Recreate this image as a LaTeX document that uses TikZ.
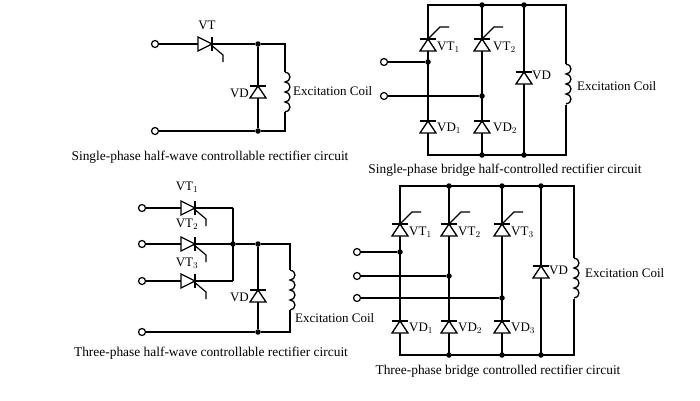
\documentclass[tikz,border=0pt]{standalone}
\usepackage{fontspec}
\setmainfont{Liberation Serif}
\tikzset{
  wire/.style={line width=1.1pt},
  lbl/.style={font=\fontsize{13}{14}\selectfont, inner sep=1pt},
  captxt/.style={font=\fontsize{13.4}{14}\selectfont},
  term/.style={circle, draw, fill=white, line width=1.2pt, inner sep=0pt, minimum size=7pt},
  jdot/.style={circle, fill, inner sep=0pt, minimum size=5.5pt},
  diode/.pic={\draw[line width=1.3pt, fill=white] (-8,6) -- (8,6) -- (0,-6) -- cycle;
    \draw[line width=1.4pt] (-8,-6) -- (8,-6);},
  thyup/.pic={\draw[line width=1.3pt, fill=white] (-8,6) -- (8,6) -- (0,-6) -- cycle;
    \draw[line width=1.4pt] (-8,-6) -- (8,-6);
    \draw[line width=1.2pt] (0,-6) -- (12,-18) -- (21,-18);},
  thyright/.pic={\draw[line width=1.3pt, fill=white] (-7,-7) -- (-7,7) -- (7,0) -- cycle;
    \draw[line width=1.4pt] (7,-7) -- (7,7);
    \draw[line width=1.2pt] (5,0) -- (18,11) -- (18,18);},
}
\newcommand{\coil}[2]{\draw[line width=1.3pt] (#1,#2) arc[start angle=-90,end angle=90,radius=5]
  arc[start angle=-90,end angle=90,radius=5] arc[start angle=-90,end angle=90,radius=5]
  arc[start angle=-90,end angle=90,radius=5];}
\begin{document}
\begin{tikzpicture}[x=1pt,y=-1pt]
\useasboundingbox (0,0) rectangle (700,400);
% single-phase half-wave
\node[term] (a1) at (155,44) {};
\node[term] (a2) at (155,131) {};
\node[jdot] (a3) at (258,44) {};
\node[jdot] (a4) at (258,131) {};
\draw[wire] (a1) -- (a3) -- (285,44) -- (285,72);
\draw[wire] (285,112) -- (285,131) -- (a4) -- (a2);
\draw[wire] (a3) -- (a4);
\coil{285}{72}
\pic at (205,44) {thyright};
\pic at (258,92) {diode};
\node[lbl] at (207,25) {VT};
\node[lbl, left] at (250,93) {VD};
\node[lbl, right] at (292,91) {Excitation Coil};
\node[captxt] at (210,157) {Single-phase half-wave controllable rectifier circuit};
% single-phase bridge
\draw[wire] (428,5) rectangle (566,155);
\draw[wire] (482,5) -- (482,155) (524,5) -- (524,155);
\draw[draw=white, fill=white] (562,64) rectangle (572,104);
\coil{566}{64}
\foreach \x in {482,524} {\node[jdot] at (\x,5) {}; \node[jdot] at (\x,155) {};}
\node[term] (b1) at (384,62) {};
\node[term] (b2) at (384,96) {};
\node[jdot] (b3) at (428,62) {};
\node[jdot] (b4) at (482,96) {};
\draw[wire] (b1) -- (b3) (b2) -- (b4);
\pic at (428,45) {thyup};
\pic at (482,45) {thyup};
\pic at (428,127) {diode};
\pic at (482,127) {diode};
\pic at (524,78) {diode};
\node[lbl, right] at (436,47) {VT$_1$};
\node[lbl, right] at (492,47) {VT$_2$};
\node[lbl, right] at (436,128) {VD$_1$};
\node[lbl, right] at (492,128) {VD$_2$};
\node[lbl, right] at (531,75) {VD};
\node[lbl, right] at (576,86) {Excitation Coil};
\node[captxt] at (505,170) {Single-phase bridge half-controlled rectifier circuit};
% three-phase half-wave
\foreach \y/\i in {208/1,244/2,281/3} {
  \node[term] (c\i) at (142,\y) {};
  \draw[wire] (c\i) -- (233,\y);
  \pic at (188,\y) {thyright};
}
\node[lbl] at (187,187) {VT$_1$};
\node[lbl] at (187,224) {VT$_2$};
\node[lbl] at (187,263) {VT$_3$};
\node[term] (c4) at (142,332) {};
\node[jdot] (c5) at (233,244) {};
\node[jdot] (c6) at (258,244) {};
\node[jdot] (c7) at (258,332) {};
\draw[wire] (233,208) -- (233,281);
\draw[wire] (c5) -- (c6) -- (290,244) -- (290,270);
\draw[wire] (290,310) -- (290,332) -- (c7) -- (c4);
\draw[wire] (c6) -- (c7);
\coil{290}{270}
\pic at (258,296) {diode};
\node[lbl, left] at (250,297) {VD};
\node[lbl, right] at (294,318) {Excitation Coil};
\node[captxt] at (211,353) {Three-phase half-wave controllable rectifier circuit};
% three-phase bridge
\draw[wire] (400,186) rectangle (574,355);
\foreach \x in {449,502,541} {\draw[wire] (\x,186) -- (\x,355);
  \node[jdot] at (\x,186) {}; \node[jdot] at (\x,355) {};}
\draw[draw=white, fill=white] (570,258) rectangle (580,298);
\coil{574}{258}
\foreach \x/\y/\i in {400/252/1,449/276/2,502/298/3} {
  \node[term] (d\i) at (357,\y) {};
  \node[jdot] (e\i) at (\x,\y) {};
  \draw[wire] (d\i) -- (e\i);
  \pic at (\x,230) {thyup};
  \pic at (\x,327) {diode};
  \node[lbl, right] at (\x+8,232) {VT$_\i$};
  \node[lbl, right] at (\x+8,328) {VD$_\i$};
}
\pic at (541,272) {diode};
\node[lbl, right] at (548,270) {VD};
\node[lbl, right] at (584,273) {Excitation Coil};
\node[captxt] at (498,371) {Three-phase bridge controlled rectifier circuit};
\end{tikzpicture}
\end{document}
